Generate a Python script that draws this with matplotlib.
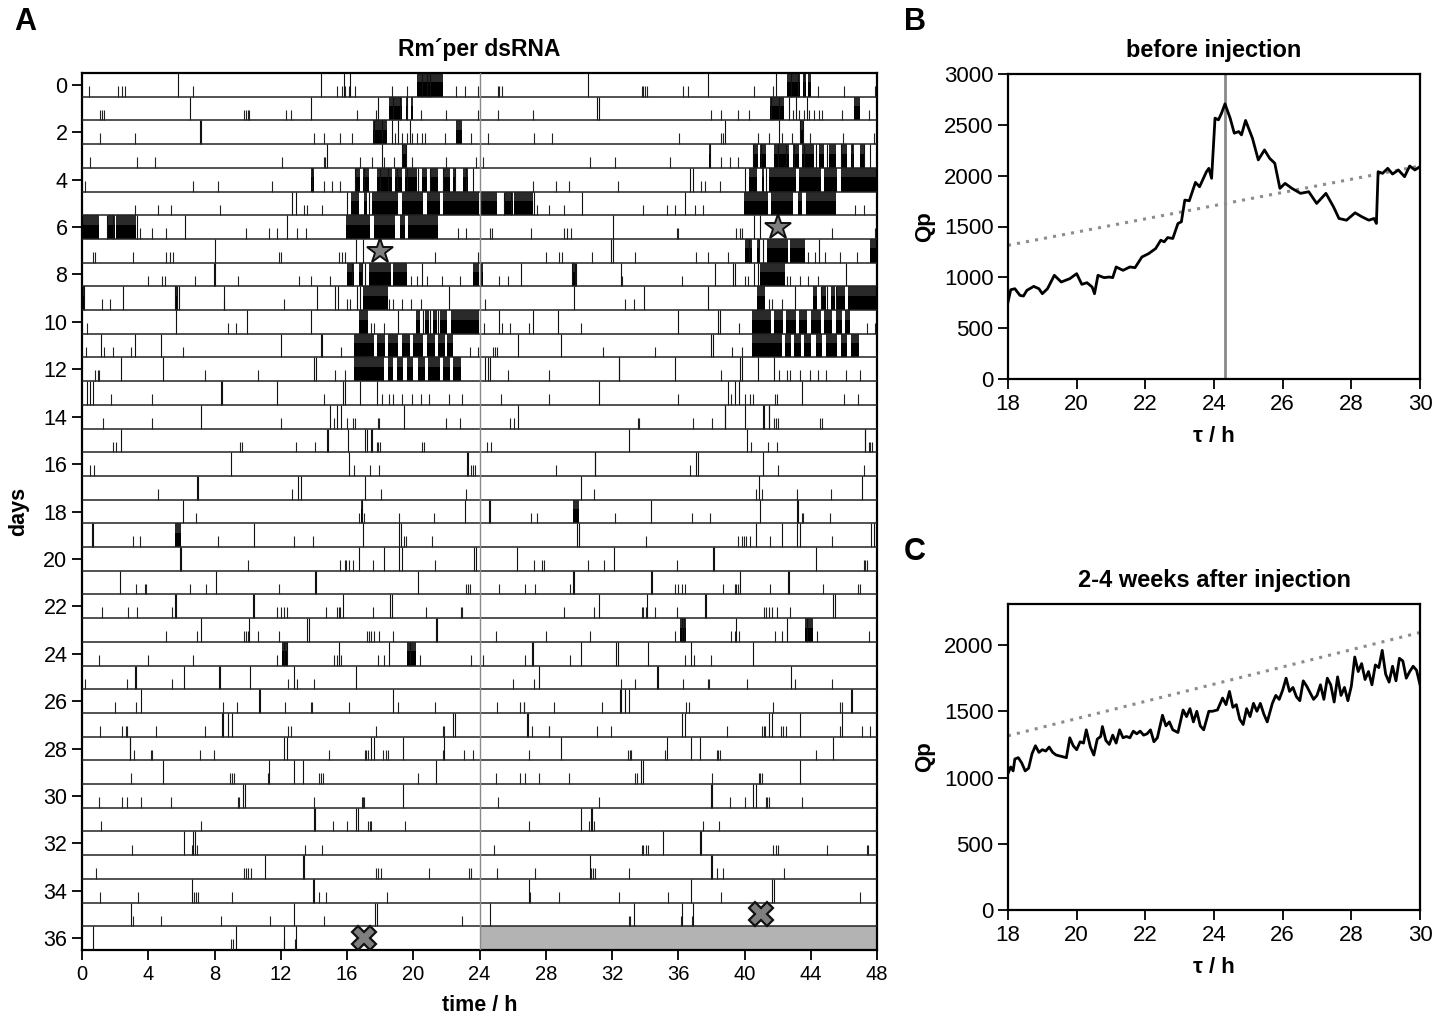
import matplotlib
matplotlib.use('Agg')
import matplotlib.pyplot as plt
from matplotlib.patches import Rectangle

plt.rcParams['font.family'] = ['Liberation Sans', 'DejaVu Sans']

# ---------------- Panel A data (activity events per day, hours 0-24) ----------------
short_ticks = [
    [0.4, 2.2, 2.4, 2.6, 6.7, 15.4, 15.7, 15.9, 16.1, 16.5, 18.7, 19.6, 22.6, 23.1, 23.9],
    [1.1, 1.2, 1.35, 9.8, 9.9, 10.0, 10.1, 12.3, 12.6, 16.6, 17.75, 20.45, 22.0, 23.9],
    [1.1, 3.2, 14.0, 14.6, 15.6, 16.3, 18.9, 19.3, 19.6, 19.9, 20.2, 20.5, 20.7, 21.9, 23.5],
    [0.5, 3.3, 4.4, 12.05, 14.6, 14.7, 16.8, 17.5, 18.25, 18.85, 19.95, 21.95, 23.8],
    [0.2, 6.7, 8.2, 11.5, 14.6, 15.1, 15.6],
    [3.2, 4.6, 5.4, 8.35, 13.4, 13.6, 14.5],
    [3.5, 4.2, 5.1, 9.9, 11.3, 11.8, 13.0, 13.5, 22.7, 23.2],
    [0.66, 0.76, 3.1, 5.1, 5.3, 5.5, 11.9, 12.0, 15.5, 15.7, 15.85, 21.3, 23.9],
    [4.0, 4.8, 5.0, 6.8, 9.4, 13.1, 13.8, 15.0, 19.85, 20.25, 20.85, 21.75, 22.8],
    [1.2, 1.7, 8.6, 12.2, 16.0, 16.2, 18.55, 18.75, 19.35, 19.85, 20.45],
    [0.32, 8.8, 9.3, 17.45, 17.65, 18.25],
    [0.26, 1.33, 1.87, 2.97, 6.1, 15.65, 23.4, 23.9],
    [0.8, 0.95, 1.05, 7.45, 10.6, 15.25, 15.85],
    [1.73, 4.2, 14.6, 18.1, 18.55, 18.75, 19.35, 19.95, 20.45, 20.95, 22.15, 22.95],
    [1.27, 4.2, 12.0, 15.2, 16.0, 16.35, 16.5, 17.85, 17.95, 22.0, 22.85],
    [1.87, 2.07, 9.55, 9.65, 12.9, 14.05, 17.8, 17.9, 18.0, 20.55, 20.65],
    [0.46, 0.72, 16.4, 17.4, 17.95, 23.5, 23.6, 23.7],
    [4.6, 12.7, 18.05, 23.2],
    [6.9, 16.7, 17.05, 19.15, 21.25],
    [3.08, 3.48, 8.2, 12.82, 13.93, 19.45, 19.55, 21.15],
    [10.05, 15.6, 15.85, 15.95, 16.1, 16.35, 17.55, 21.3],
    [3.28, 3.78, 3.88, 6.55, 7.5, 11.9, 23.2, 23.3, 23.4],
    [1.2, 2.77, 3.34, 5.45, 11.8, 12.0, 12.2, 12.4, 14.73, 15.4, 15.5, 15.6, 17.55, 20.75, 22.87, 22.97],
    [5.08, 6.93, 9.8, 9.9, 10.05, 10.6, 11.92, 17.2, 17.3, 17.45, 17.65, 17.95, 18.75],
    [1.0, 4.0, 6.7, 11.78, 15.2, 15.4, 15.65, 17.85, 18.25, 20.4, 23.5],
    [0.2, 2.73, 5.45, 12.42, 12.98, 13.99],
    [2.0, 3.28, 8.54, 9.37, 12.26, 13.8, 13.87, 16.14, 19.05, 21.3],
    [1.07, 2.43, 2.67, 2.71, 4.48, 7.4, 12.46, 12.62, 17.75, 21.77, 21.87],
    [3.14, 4.18, 4.22, 7.1, 7.96, 14.93, 17.08, 17.16, 17.24, 18.2, 18.35, 18.5, 21.77, 23.07, 23.58],
    [2.97, 8.96, 9.07, 9.17, 11.2, 14.33, 14.43, 14.53, 20.3],
    [1.0, 2.43, 2.73, 3.58, 5.39, 9.4, 9.5, 14.03, 16.88, 16.96, 17.04],
    [1.13, 7.2, 15.14, 16.0, 17.29, 17.37, 17.45, 19.5],
    [3.0, 6.63, 6.93, 13.47, 14.47],
    [0.86, 9.8, 9.9, 10.05, 10.2, 17.75, 17.9, 18.05, 20.97, 23.38, 23.48],
    [1.07, 3.38, 6.75, 6.87, 7.0, 9.05, 14.33, 14.73, 18.41],
    [3.07, 4.78, 8.4, 11.38, 14.59, 22.97],
    [9.0, 9.1, 12.18, 12.86],
]

tall_ticks = [
    [5.8, 14.4, 15.8, 16.2, 20.5, 20.8, 21.0],
    [6.55, 13.8, 17.9, 18.8, 19.2, 19.6],
    [7.1, 7.2, 17.6, 18.1, 18.7, 19.1, 19.8],
    [14.8, 18.1, 19.35, 19.55],
    [13.9, 16.5, 17.0, 18.0, 18.5, 19.0, 19.6, 20.3, 21.0, 21.8, 22.5, 23.2, 23.6],
    [12.7, 12.9, 16.0, 17.3],
    [1.5, 1.9, 3.3, 6.2, 12.4],
    [8.05, 16.55, 16.95],
    [7.95, 8.05, 16.3, 16.9, 17.1, 20.5],
    [0.1, 2.5, 5.6, 5.75, 5.85, 8.55, 14.2, 15.3, 15.45, 16.6, 16.8, 22.15],
    [5.7, 9.95, 13.8, 19.05, 20.6, 21.0, 21.5],
    [1.17, 3.2, 4.75, 12.0, 14.4, 14.5],
    [2.35, 4.9, 14.0, 14.1],
    [0.32, 0.5, 0.66, 8.4, 8.45, 11.8, 15.75, 15.85, 16.8, 17.8],
    [7.2, 15.0, 15.4, 15.65, 19.45],
    [2.33, 14.8, 14.85, 16.05, 17.1, 17.2, 17.45, 17.5],
    [9.0, 16.15, 23.25, 23.3],
    [6.95, 7.0, 13.05, 13.2, 17.1],
    [6.1, 16.9, 23.1],
    [0.6, 0.66, 10.37, 16.95, 19.15, 19.25],
    [5.9, 6.0, 16.7, 18.25, 19.15, 19.35, 23.65, 23.8],
    [2.27, 8.1, 14.07, 14.15, 20.3],
    [5.63, 5.7, 10.35, 10.4, 15.74, 18.6, 18.7],
    [7.2, 10.1, 13.6, 13.7, 21.35, 21.45],
    [12.2, 12.35, 15.5, 18.55, 19.8],
    [3.18, 3.24, 6.15, 8.26, 8.35, 10.17, 12.78, 16.54],
    [3.58, 10.7, 10.75, 18.8],
    [8.46, 8.54, 8.8, 9.05, 22.43, 22.5],
    [2.87, 2.91, 12.2, 12.38, 17.45, 17.65, 19.36, 21.87],
    [4.9, 11.3, 12.78, 13.32, 21.37],
    [9.75, 9.85, 19.36],
    [13.99, 14.05, 16.54, 16.68],
    [6.15, 6.72, 6.8],
    [11.05, 13.33, 13.39],
    [6.65, 13.95, 14.03],
    [2.97, 12.78, 17.69, 17.8],
    [0.66, 9.3, 12.2, 12.9],
]

bursts = [
    [(20.2, 21.8)],
    [(18.55, 19.35), (19.55, 19.7), (19.85, 20.0)],
    [(17.55, 18.4), (22.6, 22.95)],
    [(19.35, 19.55)],
    [(13.85, 14.0), (16.5, 16.8), (16.95, 17.3), (17.8, 18.7), (18.9, 19.3), (19.5, 20.2),
     (20.5, 20.8), (21.1, 21.5), (21.8, 22.2), (22.4, 22.6), (23.0, 23.3)],
    [(16.25, 16.75), (17.05, 17.2), (17.5, 19.1), (19.3, 20.6), (20.8, 21.6), (21.8, 23.95)],
    [(0.0, 1.05), (1.55, 2.0), (2.07, 3.25), (15.95, 17.4), (17.6, 18.9), (19.2, 19.5), (19.7, 21.5)],
    [],
    [(16.0, 16.45), (16.75, 16.95), (17.35, 18.65), (18.75, 19.65), (23.6, 23.95)],
    [(0.05, 0.2), (5.6, 5.75), (16.95, 18.45)],
    [(16.75, 17.25), (20.15, 20.4), (20.7, 20.95), (21.2, 21.45), (21.6, 22.05), (22.25, 23.95)],
    [(16.45, 17.6), (17.8, 18.3), (18.5, 19.1), (19.3, 19.8), (20.0, 20.6), (20.8, 21.3),
     (21.5, 21.9), (22.05, 22.4)],
    [(16.45, 18.25), (18.45, 18.8), (19.0, 19.4), (19.6, 20.0), (20.3, 20.7), (20.9, 21.6),
     (21.8, 22.2), (22.4, 22.9)],
    [], [], [], [], [],
    [(16.85, 16.95)],
    [(5.63, 6.0)],
    [], [], [], [],
    [(12.1, 12.45), (19.65, 20.15)],
    [], [], [], [], [], [], [], [], [], [], [], [],
]

n_days = len(short_ticks)
day_ticks = list(range(0, 37, 2))
hour_ticks = list(range(0, 49, 4))
star_points = [(18, 7), (42, 6)]
cross_points = [(17, 36), (41, 35)]

# ---------------- Panel B / C data ----------------
tau_b = [18.0, 18.08, 18.2, 18.35, 18.45, 18.55, 18.75, 18.9, 19.0, 19.15, 19.35, 19.55, 19.8,
         20.0, 20.15, 20.3, 20.45, 20.52, 20.62, 20.8, 20.95, 21.05, 21.15, 21.35, 21.55, 21.7,
         21.9, 22.1, 22.3, 22.45, 22.55, 22.65, 22.8, 22.95, 23.05, 23.15, 23.28, 23.46, 23.58,
         23.78, 23.85, 23.93, 24.03, 24.13, 24.22, 24.32, 24.47, 24.59, 24.72, 24.8, 24.92,
         25.12, 25.29, 25.47, 25.62, 25.77, 25.92, 26.07, 26.27, 26.52, 26.76, 26.99, 27.26,
         27.48, 27.64, 27.86, 28.11, 28.31, 28.51, 28.66, 28.73, 28.78, 28.91, 29.06, 29.2,
         29.37, 29.55, 29.7, 29.85, 30.0]
qp_b = [757, 878, 888, 822, 816, 872, 911, 888, 839, 888, 1020, 954, 987,
        1036, 931, 947, 905, 839, 1020, 997, 1003, 997, 1102, 1069, 1102, 1095,
        1200, 1234, 1283, 1365, 1349, 1391, 1382, 1530, 1546, 1760, 1753, 1934, 1891,
        2039, 2072, 1974, 2566, 2549, 2615, 2707, 2566, 2418, 2434, 2401, 2543,
        2368, 2155, 2253, 2171, 2122, 1875, 1924, 1875, 1826, 1842, 1727, 1826,
        1694, 1579, 1562, 1635, 1595, 1562, 1579, 1530, 2039, 2023, 2072, 2016,
        2056, 1990, 2095, 2056, 2089]

tau_c = [18.0, 18.08, 18.15, 18.2, 18.3, 18.4, 18.5, 18.6, 18.7, 18.8, 18.9, 19.0, 19.1, 19.2,
         19.3, 19.4, 19.55, 19.7, 19.8, 19.9, 20.0, 20.1, 20.2, 20.28, 20.4, 20.5, 20.6, 20.7,
         20.75, 20.85, 20.95, 21.05, 21.15, 21.25, 21.35, 21.45, 21.55, 21.65, 21.75, 21.85,
         21.95, 22.05, 22.15, 22.25, 22.35, 22.5, 22.6, 22.7, 22.8, 22.95, 23.1, 23.2, 23.3,
         23.4, 23.5, 23.6, 23.7, 23.85, 23.95, 24.1, 24.25, 24.35, 24.45, 24.55, 24.65, 24.75,
         24.85, 24.95, 25.05, 25.15, 25.25, 25.35, 25.45, 25.55, 25.7, 25.8, 25.9, 26.0, 26.1,
         26.2, 26.3, 26.4, 26.5, 26.6, 26.7, 26.8, 26.9, 27.0, 27.1, 27.2, 27.3, 27.4, 27.5,
         27.6, 27.7, 27.8, 27.9, 28.0, 28.1, 28.2, 28.3, 28.4, 28.5, 28.6, 28.7, 28.8, 28.9,
         29.0, 29.1, 29.2, 29.3, 29.4, 29.5, 29.6, 29.7, 29.8, 29.9, 30.0]
qp_c = [1030, 1080, 1050, 1140, 1150, 1110, 1050, 1070, 1180, 1240, 1190, 1210, 1200, 1230,
        1190, 1170, 1160, 1150, 1300, 1240, 1210, 1270, 1260, 1360, 1230, 1170, 1290, 1310,
        1385, 1280, 1250, 1320, 1260, 1360, 1300, 1310, 1300, 1350, 1330, 1350,
        1320, 1330, 1360, 1270, 1300, 1470, 1390, 1420, 1360, 1340, 1510, 1460, 1520,
        1420, 1500, 1390, 1360, 1500, 1500, 1510, 1600, 1550, 1650, 1530, 1550, 1440,
        1400, 1520, 1460, 1560, 1500, 1560, 1480, 1420, 1560, 1620, 1590, 1660, 1750,
        1650, 1680, 1610, 1580, 1730, 1690, 1640, 1590, 1620, 1700, 1590, 1750, 1700, 1570,
        1760, 1620, 1680, 1580, 1690, 1910, 1800, 1860, 1740, 1800, 1700, 1850, 1830, 1960,
        1780, 1720, 1840, 1730, 1900, 1880, 1750, 1800, 1840, 1810, 1700]

trend_tau = [18, 30]
trend_qp = [1315, 2095]
peak_tau = 24.33

# ---------------- Figure ----------------
W, H = 1451, 1018
fig = plt.figure(figsize=(W / 100, H / 100), dpi=100)

def ax_px(x0, y0, x1, y1):
    return fig.add_axes([x0 / W, 1 - y1 / H, (x1 - x0) / W, (y1 - y0) / H])

axA = ax_px(82, 73, 877, 950)
axB = ax_px(1008, 74, 1420, 379)
axC = ax_px(1008, 604, 1420, 910)

# --- Panel A ---
SHORT_H = 0.45
xs_s, y0_s, y1_s = [], [], []
xs_t, y0_t, y1_t = [], [], []
for d in range(n_days):
    for row, off in ((d, 0), (d - 1, 24)):
        if row < 0:
            continue
        base = row + 0.5
        for t in short_ticks[d]:
            xs_s.append(t + off); y0_s.append(base - SHORT_H); y1_s.append(base)
        for t in tall_ticks[d]:
            xs_t.append(t + off); y0_t.append(base - 1.0); y1_t.append(base)
        for (a, b) in bursts[d]:
            axA.add_patch(Rectangle((a + off, base - 1.0), b - a, 1.0,
                                    facecolor='#2a2a2a', edgecolor='none', zorder=2))
            axA.add_patch(Rectangle((a + off, base - 0.6), b - a, 0.6,
                                    facecolor='black', edgecolor='none', zorder=2))
axA.vlines(xs_s, y0_s, y1_s, colors='#222222', linewidth=0.8, zorder=3)
axA.vlines(xs_t, y0_t, y1_t, colors='#111111', linewidth=0.8, zorder=3)

# missing data (last row, right half)
axA.add_patch(Rectangle((24, n_days - 1.5), 24, 1.0, facecolor='#b3b3b3',
                        edgecolor='none', zorder=1))
# row separators
for r in range(n_days - 1):
    axA.axhline(r + 0.5, color='#222222', linewidth=1.1, zorder=4)
axA.axvline(24, color='#8a8a8a', linewidth=1.0, zorder=4)

for (x, y) in star_points:
    axA.plot(x, y, marker='*', ms=19, mfc='#7f7f7f', mec='#111111', mew=1.4, zorder=6)
for (x, y) in cross_points:
    axA.plot(x, y, marker='X', ms=17, mfc='#7f7f7f', mec='#111111', mew=1.6, zorder=6)

axA.set_xlim(0, 48)
axA.set_ylim(n_days - 0.5, -0.5)
axA.set_xticks(hour_ticks)
axA.set_yticks(day_ticks)
axA.tick_params(axis='y', labelsize=15.5, length=7, width=1.3)
axA.tick_params(axis='x', labelsize=14.5, length=7, width=1.3)
for s in axA.spines.values():
    s.set_linewidth(1.6)
axA.set_xlabel('time / h', fontsize=15.5, fontweight='bold', labelpad=8)
axA.set_ylabel('days', fontsize=15.5, fontweight='bold', labelpad=10)
axA.set_title('Rm\u00b4per dsRNA', fontsize=16.5, fontweight='bold', pad=12)

# --- Panels B and C ---
def style_q(ax, title, ymax, yt):
    ax.plot(trend_tau, trend_qp, color='#8c8c8c', linestyle=(0, (1, 2)), linewidth=2.2, zorder=2)
    ax.set_xlim(18, 30)
    ax.set_ylim(0, ymax)
    ax.set_xticks(range(18, 31, 2))
    ax.set_yticks(yt)
    ax.tick_params(labelsize=16, length=7, width=1.3)
    for s in ax.spines.values():
        s.set_linewidth(1.6)
    ax.set_xlabel('\u03c4 / h', fontsize=16, fontweight='bold', labelpad=8)
    ax.set_ylabel('Qp', fontsize=16, fontweight='bold', labelpad=6)
    ax.set_title(title, fontsize=17, fontweight='bold', pad=12)

axB.axvline(peak_tau, color='#8a8a8a', linewidth=2.0, zorder=1)
axB.plot(tau_b, qp_b, color='black', linewidth=2.0, zorder=3)
style_q(axB, 'before injection', 3000, range(0, 3001, 500))

axC.plot(tau_c, qp_c, color='black', linewidth=2.0, zorder=3)
style_q(axC, '2-4 weeks after injection', 2310, range(0, 2001, 500))

# panel letters
for lab, x, y in (('A', 25, 22), ('B', 915, 22), ('C', 915, 552)):
    fig.text(x / W, 1 - y / H, lab, fontsize=22, fontweight='bold', ha='center', va='center')

fig.savefig('out.png', dpi=100)
